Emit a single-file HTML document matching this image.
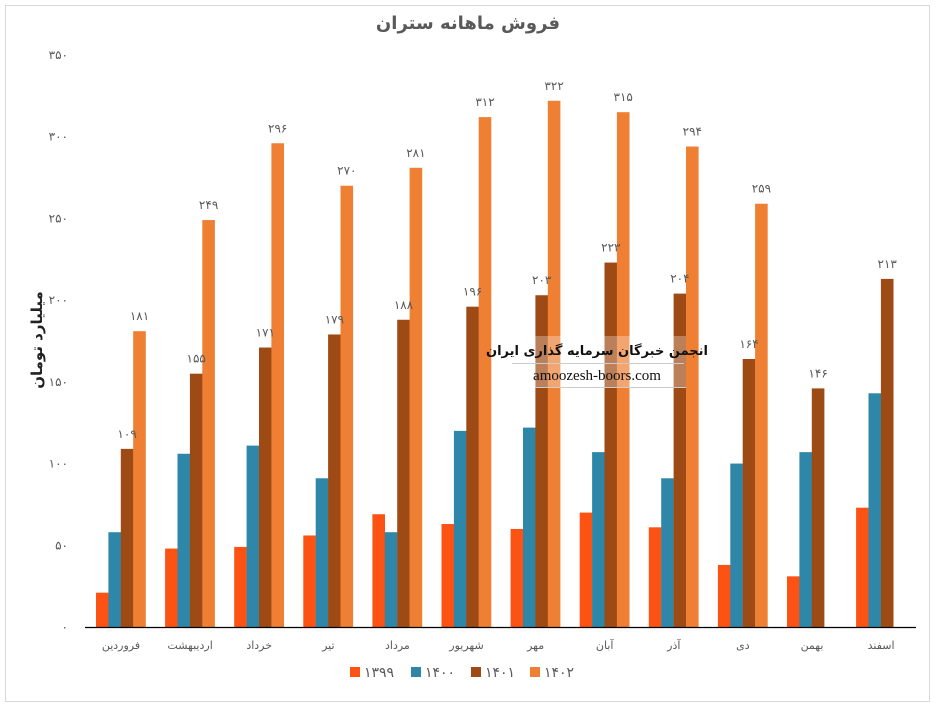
<!DOCTYPE html>
<html><head><meta charset="utf-8"><style>
body{margin:0;background:#fff;}
svg{display:block;font-family:"Liberation Sans","DejaVu Sans",sans-serif;}
</style></head><body>
<svg id="c" width="937" height="708" xmlns="http://www.w3.org/2000/svg">
<rect x="5.5" y="5.5" width="924" height="696" fill="#fff" stroke="#d9d9d9"/>
<text x="468" y="29" text-anchor="middle" font-size="18" font-weight="bold" fill="#595959" font-family="'DejaVu Sans',sans-serif">فروش ماهانه ستران</text>
<text transform="translate(42,340) rotate(-90)" text-anchor="middle" font-size="15" font-weight="bold" fill="#222" font-family="'DejaVu Sans',sans-serif">میلیارد تومان</text>
<g id="bars"></g>
<line x1="85" y1="627.5" x2="916" y2="627.5" stroke="#000" stroke-width="1.3"/>
<g font-size="12" fill="#595959">
<rect x="350" y="667" width="10" height="10" fill="#fc5214"/><text x="364" y="677" font-family="'DejaVu Sans',sans-serif" font-size="14">۱۳۹۹</text>
<rect x="411" y="667" width="10" height="10" fill="#2e86a8"/><text x="425" y="677" font-family="'DejaVu Sans',sans-serif" font-size="14">۱۴۰۰</text>
<rect x="471" y="667" width="10" height="10" fill="#9e4a14"/><text x="485" y="677" font-family="'DejaVu Sans',sans-serif" font-size="14">۱۴۰۱</text>
<rect x="530" y="667" width="10" height="10" fill="#ee7f33"/><text x="544" y="677" font-family="'DejaVu Sans',sans-serif" font-size="14">۱۴۰۲</text>
</g>
<g>
<rect x="508" y="336" width="178" height="52" fill="#fff" opacity="0.3"/>
<text x="597" y="355" text-anchor="middle" font-size="13" font-weight="bold" fill="#111" font-family="'DejaVu Sans',sans-serif">انجمن خبرگان سرمایه گذاری ایران</text>
<line x1="512" y1="363.5" x2="684" y2="363.5" stroke="#ccc"/>
<text x="597" y="380" text-anchor="middle" font-size="15" fill="#111" font-family="'Liberation Serif',serif">amoozesh-boors.com</text>
<line x1="535" y1="387.5" x2="686" y2="387.5" stroke="#ccc"/>
</g>
</svg>
<script>
const fa=s=>String(s).replace(/\d/g,d=>'۰۱۲۳۴۵۶۷۸۹'[d]);
const d=[[21,48,49,56,69,63,60,70,61,38,31,73],[58,106,111,91,58,120,122,107,91,100,107,143],[109,155,171,179,188,196,203,223,204,164,146,213],[181,249,296,270,281,312,322,315,294,259,null,null]];
const cols=['#fc5214','#2e86a8','#9e4a14','#ee7f33'];
const months=['فروردین','اردیبهشت','خرداد','تیر','مرداد','شهریور','مهر','آبان','آذر','دی','بهمن','اسفند'];
const k=572/350,base=627;let h='',t='';
for(let v=0;v<=350;v+=50){h+=`<text x="68" y="${base-v*k+4}" text-anchor="end" font-size="12" fill="#595959" font-family="'DejaVu Sans',sans-serif">${fa(v)}</text>`;}
for(let i=0;i<12;i++){const x0=96+i*69.1;
for(let s=0;s<4;s++){const v=d[s][i];if(v==null)continue;const x=x0+s*12.4,y=base-v*k;
h+=`<rect x="${x}" y="${y}" width="12.6" height="${v*k}" fill="${cols[s]}"/>`;
if(s>=2)t+=`<text x="${x+6.3}" y="${y-11}" text-anchor="middle" font-size="12" fill="#595959" font-family="'DejaVu Sans',sans-serif">${fa(v)}</text>`;}
h+=`<text x="${x0+25}" y="649" text-anchor="middle" font-size="11" fill="#595959" font-family="'DejaVu Sans',sans-serif">${months[i]}</text>`;}
document.getElementById('bars').innerHTML=h+t;
</script>
</body></html>
